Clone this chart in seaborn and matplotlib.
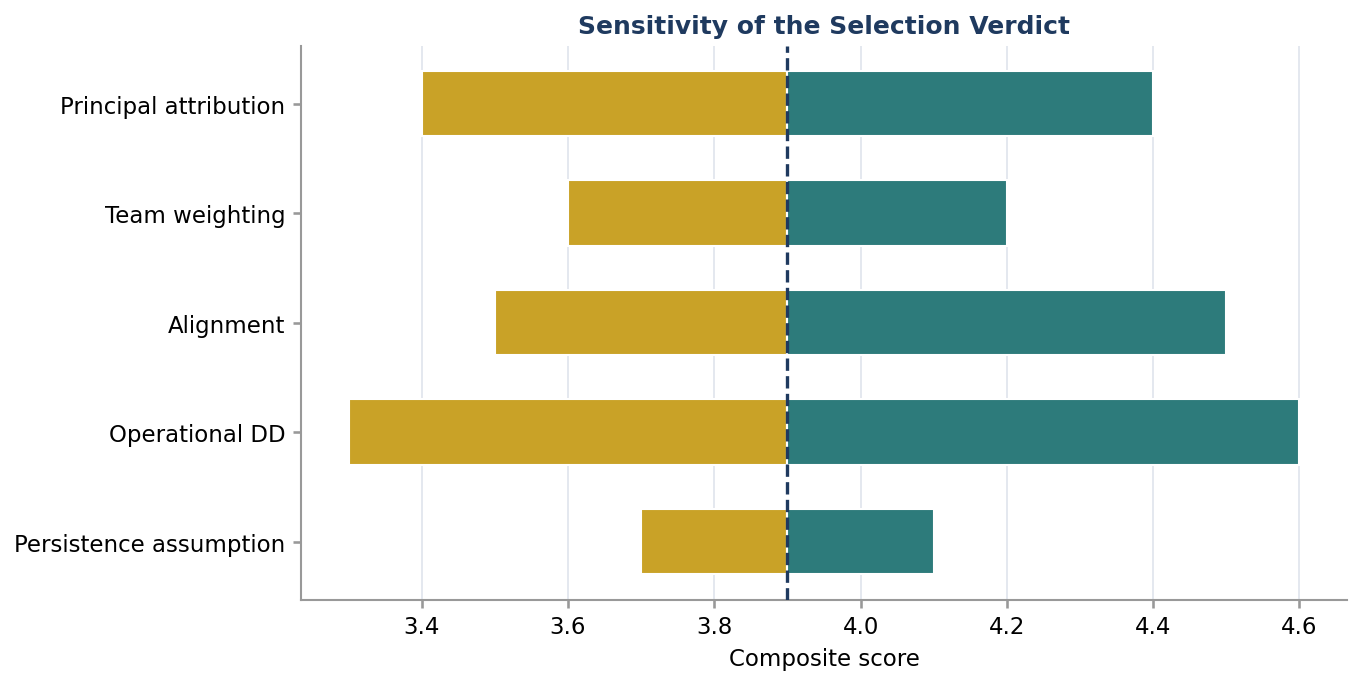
import numpy as np
import matplotlib
matplotlib.use("Agg")
import matplotlib.pyplot as plt
import seaborn as sns

# tornado data
factors = ["Principal attribution", "Team weighting", "Alignment",
           "Operational DD", "Persistence assumption"]
low_scores = [3.4, 3.6, 3.5, 3.3, 3.7]
high_scores = [4.4, 4.2, 4.5, 4.6, 4.1]
base_score = 3.9

sns.set_theme(style="white")
plt.rcParams['font.family'] = ['DejaVu Sans']
plt.rcParams['text.color'] = 'black'
plt.rcParams['axes.labelcolor'] = 'black'
plt.rcParams['xtick.color'] = 'black'
plt.rcParams['ytick.color'] = 'black'

fig, ax = plt.subplots(figsize=(9.08, 4.56), dpi=150)
fig.subplots_adjust(left=0.221, right=0.989, top=0.932, bottom=0.122)

y = np.arange(len(factors))
low = np.array(low_scores)
high = np.array(high_scores)

ax.barh(y, low - base_score, left=base_score, height=0.6, color="#C9A227", zorder=2)
ax.barh(y, high - base_score, left=base_score, height=0.6, color="#2D7B7B", zorder=2)
ax.axvline(base_score, color="#1F3A5F", linestyle="--", linewidth=1.6, zorder=3)

ax.set_yticks(y)
ax.set_yticklabels(factors, fontsize=11)
ax.invert_yaxis()
ax.tick_params(axis="x", labelsize=11)
ax.tick_params(axis="both", which="major", length=4, color="#999999", bottom=True, left=True)
ax.xaxis.grid(True, color="#E3E7EE", linewidth=0.9, zorder=0)
ax.set_axisbelow(True)

ax.set_xlabel("Composite score", fontsize=11)
ax.set_title("Sensitivity of the Selection Verdict", fontsize=12, fontweight="bold",
             color="#1F3A5F", pad=6)

sns.despine(ax=ax)
for side in ["left", "bottom"]:
    ax.spines[side].set_color("#999999")
    ax.spines[side].set_linewidth(1.0)

plt.savefig("out.png", dpi=150)
